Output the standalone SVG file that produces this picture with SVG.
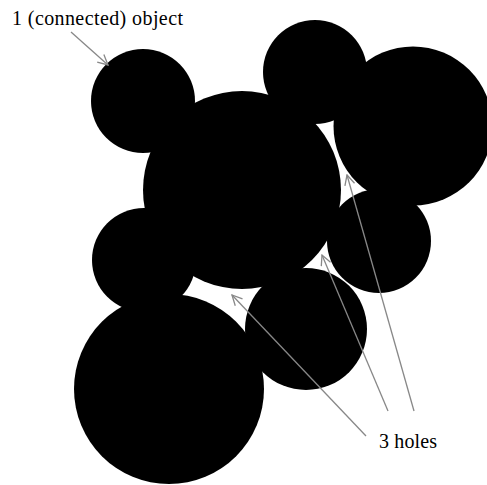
<svg xmlns="http://www.w3.org/2000/svg" width="487" height="485" viewBox="0 0 487 485">
<style>
.disc{fill:#000}
.lbl{font-family:"Liberation Serif","Times New Roman",serif;font-size:20px;fill:#000}
.ptr{stroke:#888;stroke-width:1.3;fill:none;marker-end:url(#ah)}
</style>
<defs>
<marker id="ah" viewBox="0 0 12 12" refX="11" refY="6" markerWidth="12" markerHeight="12" markerUnits="userSpaceOnUse" orient="auto">
<path d="M1,1 L11,6 L1,11" fill="none" stroke="#888" stroke-width="1.3"/>
</marker>
</defs>
<rect width="487" height="485" fill="#fff"/>
<g id="object">
<circle class="disc" cx="143" cy="101" r="52"/>
<circle class="disc" cx="315" cy="72" r="52"/>
<circle class="disc" cx="413" cy="126" r="79.5"/>
<circle class="disc" cx="242" cy="190" r="99"/>
<circle class="disc" cx="379" cy="241" r="52"/>
<circle class="disc" cx="144" cy="260" r="52"/>
<circle class="disc" cx="306" cy="329" r="61"/>
<circle class="disc" cx="169" cy="389" r="95"/>
</g>
<g id="label-object"><text class="lbl" x="12" y="25" textLength="171">1 (connected) object</text></g>
<g id="label-holes"><text class="lbl" x="379" y="448" textLength="58">3 holes</text></g>
<g id="connectors">
<line class="ptr" x1="71" y1="32" x2="108" y2="65"/>
<line class="ptr" x1="366" y1="436" x2="232" y2="295"/>
<line class="ptr" x1="388" y1="411" x2="322" y2="255"/>
<line class="ptr" x1="414" y1="411" x2="347" y2="175"/>
</g>
</svg>
